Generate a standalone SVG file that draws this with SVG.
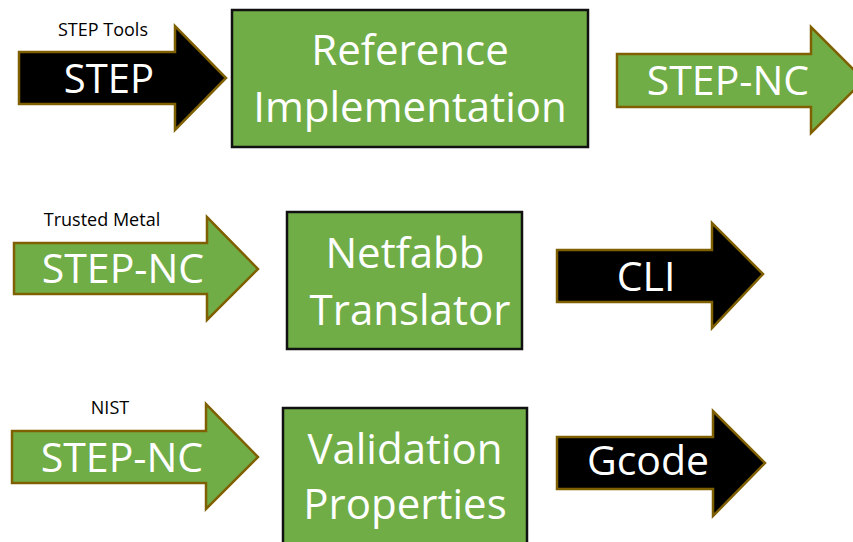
<svg xmlns="http://www.w3.org/2000/svg" width="853" height="542" viewBox="0 0 853 542">
<style>
.arr-g{fill:#70ad47;stroke:#7f6000;stroke-width:2.5;stroke-linejoin:miter}
.arr-k{fill:#000;stroke:#7f6000;stroke-width:2.5;stroke-linejoin:miter}
.box{fill:#70ad47;stroke:#111;stroke-width:2.5}
.t{font-family:"Open Sans","Liberation Sans",sans-serif;fill:#fff;text-anchor:middle}
.big{font-size:41px}
.lbl{font-family:"Open Sans","Liberation Sans",sans-serif;fill:#000;font-size:18px;text-anchor:middle}
</style>
<rect width="853" height="542" fill="#fff"/>
<g id="connectors">
<g id="arrow-step">
<polygon class="arr-k" points="19,52 175,52 175,26 226,78 175,130 175,104 19,104"/>
<text class="t" x="109" y="93" font-size="40">STEP</text>
<text class="lbl" x="103" y="36">STEP Tools</text>
</g>
<g id="arrow-stepnc-out">
<polygon class="arr-g" points="617,54 811,54 811,27 864,80 811,133 811,107 617,107"/>
<text class="t big" x="728" y="95">STEP-NC</text>
</g>
<g id="arrow-stepnc-tm">
<polygon class="arr-g" points="14,243 207,243 207,217 258,269 207,320 207,294 14,294"/>
<text class="t big" x="123" y="283">STEP-NC</text>
<text class="lbl" x="102" y="226">Trusted Metal</text>
</g>
<g id="arrow-cli">
<polygon class="arr-k" points="557,250 712,250 712,223 763,274 712,328 712,302 557,302"/>
<text class="t big" x="646" y="291">CLI</text>
</g>
<g id="arrow-stepnc-nist">
<polygon class="arr-g" points="12,431 206,431 206,404 258,457 206,509 206,483 12,483"/>
<text class="t big" x="122" y="472">STEP-NC</text>
<text class="lbl" x="110" y="414">NIST</text>
</g>
<g id="arrow-gcode">
<polygon class="arr-k" points="557,437 713,437 713,411 765,463 713,516 713,489 557,489"/>
<text class="t big" x="648" y="475">Gcode</text>
</g>
</g>
<g id="node-reference">
<rect class="box" x="232" y="10" width="356" height="137"/>
<text class="t" x="410" y="65" font-size="42">Reference</text>
<text class="t" x="410" y="122" font-size="42">Implementation</text>
</g>
<g id="node-netfabb">
<rect class="box" x="287" y="212" width="235" height="137"/>
<text class="t" x="405" y="268" font-size="42">Netfabb</text>
<text class="t" x="410" y="325" font-size="42">Translator</text>
</g>
<g id="node-validation">
<rect class="box" x="283" y="408" width="244" height="150"/>
<text class="t" x="405" y="464" font-size="42">Validation</text>
<text class="t" x="405" y="519" font-size="42">Properties</text>
</g>
</svg>
